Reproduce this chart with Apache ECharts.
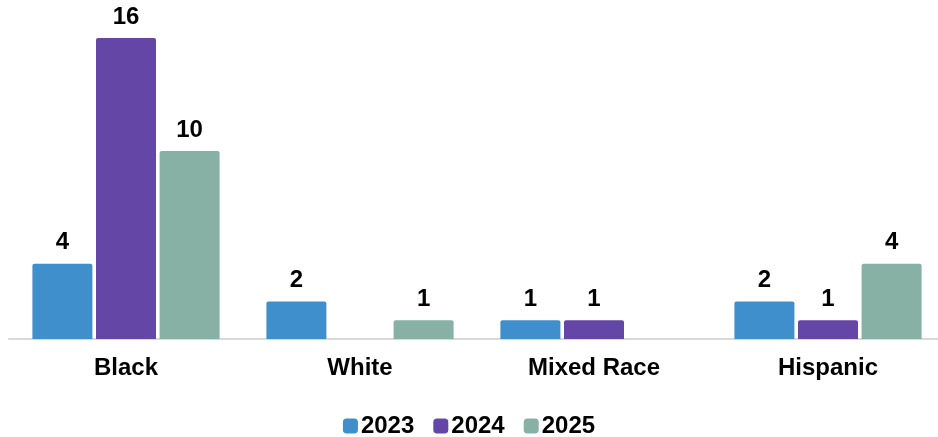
<!DOCTYPE html>
<html lang="en">
<head>
    <meta charset="UTF-8">
    <title>Race chart</title>
    <style>
        html, body { margin: 0; padding: 0; background: #fff; }
        #main { width: 938px; height: 437px; }
    </style>
    <script src="https://cdn.jsdelivr.net/npm/echarts@6/dist/echarts.min.js"></script>
</head>
<body>
<div id="main"></div>
<script type="text/javascript">
    var categories = ['Black', 'White', 'Mixed Race', 'Hispanic'];
    var years = ['2023', '2024', '2025'];
    var v2023 = [4, 2, 1, 2];
    var v2024 = [16, null, 1, 1];
    var v2025 = [10, 1, null, 4];
    var colors = ['#3e8fcb', '#6446a6', '#86b1a4'];

    var myChart = echarts.init(document.getElementById('main'));
    var font = '"Liberation Sans", Arial, sans-serif';

    function makeSeries(name, data, color) {
        return {
            name: name,
            type: 'bar',
            data: data,
            barGap: '6%',
            barCategoryGap: '20%',
            itemStyle: { color: color, borderRadius: [2, 2, 0, 0] },
            label: {
                show: true,
                position: 'top',
                distance: 9,
                color: '#000',
                fontFamily: font,
                fontWeight: 'bold',
                fontSize: 24
            }
        };
    }

    var option = {
        animation: false,
        grid: { left: 9, width: 936, top: 38, bottom: 98, containLabel: false, outerBoundsMode: 'none' },
        legend: {
            top: 409,
            left: 'center',
            icon: 'roundRect',
            itemWidth: 15,
            itemHeight: 15,
            itemGap: 19,
            textStyle: { color: '#000', fontFamily: font, fontWeight: 'bold', fontSize: 24, padding: [0, 0, 0, -2] },
            data: years
        },
        xAxis: {
            type: 'category',
            data: categories,
            axisTick: { show: false },
            axisLine: { lineStyle: { color: '#d9d9d9', width: 2 } },
            axisLabel: { color: '#000', fontFamily: font, fontWeight: 'bold', fontSize: 24, margin: 17 }
        },
        yAxis: {
            type: 'value',
            min: 0,
            max: 16,
            show: false
        },
        series: [
            makeSeries(years[0], v2023, colors[0]),
            makeSeries(years[1], v2024, colors[1]),
            makeSeries(years[2], v2025, colors[2])
        ]
    };
    myChart.setOption(option);
</script>
</body>
</html>
